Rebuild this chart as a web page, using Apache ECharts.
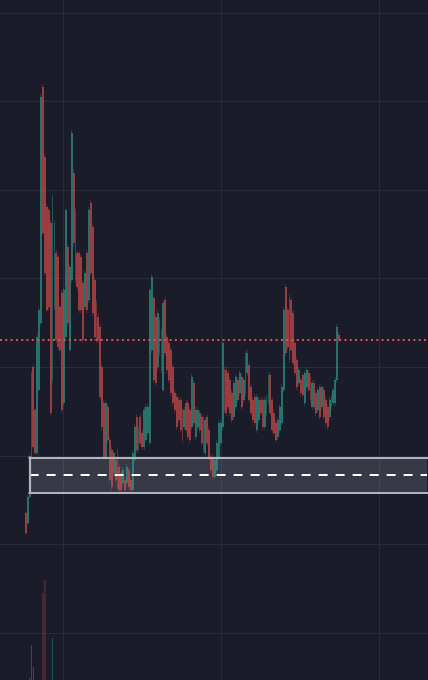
<!DOCTYPE html>
<html><head><meta charset="utf-8">
<script src="https://cdn.jsdelivr.net/npm/echarts@6/dist/echarts.min.js"></script>
<style>html,body{margin:0;padding:0;background:#1b1c2a;}#c{width:428px;height:680px;}</style>
</head><body><div id="c"></div><script>
// [open, close, low, high]
const candles = [
[12.0,10.0,9.8,12.2],[11.0,13.6,10.8,13.8],[13.6,17.6,13.4,17.9],[17.6,26.0,17.4,26.2],[26.6,18.6,18.4,26.9],
[22.3,18.0,17.8,22.5],[18.0,29.6,17.8,29.9],[24.3,32.3,24.0,32.6],[31.0,53.6,30.8,53.9],[54.6,40.0,39.8,54.9],
[47.6,36.0,35.7,47.9],[42.6,32.3,32.0,42.9],[42.3,32.6,32.3,42.5],[41.0,22.0,21.7,41.3],[25.3,43.6,25.0,43.9],
[32.6,41.0,32.3,41.2],[38.0,29.3,29.0,38.3],[37.6,28.6,28.3,37.9],[32.6,28.3,28.0,32.8],[34.0,22.3,22.0,34.3],
[23.0,34.3,22.7,34.6],[29.6,42.3,29.3,42.6],[38.6,31.0,30.7,38.9],[28.3,36.6,28.0,36.9],[35.3,50.0,35.0,50.3],
[46.0,39.0,38.7,46.3],[42.3,35.3,35.0,42.5],[38.0,34.6,34.3,38.3],[38.0,32.3,32.0,38.2],[37.6,32.3,32.0,37.9],
[35.0,29.3,29.0,35.3],[32.6,36.0,32.3,36.3],[38.0,32.3,32.0,38.3],[33.3,42.3,33.0,42.6],[43.0,36.0,35.7,43.3],
[40.6,32.0,31.7,40.9],[35.3,29.6,29.3,35.6],[33.0,29.3,29.0,33.3],[31.6,29.3,29.0,31.9],[30.6,23.6,23.3,30.9],
[26.6,20.6,20.3,26.9],[23.0,17.6,17.3,23.3],[17.6,23.0,17.3,23.3],[22.6,19.3,19.0,22.9],[19.3,15.3,15.0,19.6],
[18.3,14.6,14.3,18.6],[16.0,18.0,15.7,18.3],[17.3,15.3,15.0,17.6],[18.3,14.6,14.3,18.6],[16.6,14.3,14.0,16.9],
[16.0,14.3,14.0,16.3],[15.0,16.3,14.7,16.6],[15.3,14.3,14.0,15.6],[15.0,16.6,14.7,16.9],[16.3,14.6,14.3,16.6],
[15.3,14.3,14.0,15.6],[14.3,18.0,14.0,18.3],[17.3,20.6,17.0,20.9],[21.6,18.3,18.0,21.9],[18.3,20.3,18.0,20.6],
[21.6,19.0,18.7,21.9],[20.0,18.6,18.3,20.3],[18.6,22.3,18.3,22.6],[19.3,22.6,19.0,22.9],[20.0,22.6,19.7,22.9],
[19.0,34.3,18.7,34.6],[28.3,35.6,28.0,35.9],[33.5,25.3,25.0,33.8],[31.6,25.0,24.7,31.9],[26.6,32.0,26.3,32.3],
[28.0,31.3,27.7,31.6],[30.3,26.3,26.0,30.6],[24.3,33.0,24.0,33.3],[33.3,28.0,27.7,33.6],[29.6,26.3,26.0,29.9],
[29.0,25.3,25.0,29.3],[28.3,24.0,23.7,28.6],[26.6,23.0,22.7,26.9],[24.0,22.3,22.0,24.3],[23.6,20.6,20.3,23.9],
[23.3,21.3,21.0,23.6],[23.3,20.3,20.0,23.6],[22.3,19.3,19.0,22.6],[20.6,22.3,20.3,22.6],[23.0,20.3,20.0,23.3],
[23.0,19.6,19.3,23.3],[22.3,19.3,19.0,22.6],[20.6,25.6,20.3,25.9],[25.0,21.0,20.7,25.3],[19.6,22.3,19.3,22.6],
[20.6,22.3,20.3,22.6],[22.0,20.3,20.0,22.3],[21.6,19.0,18.7,21.9],[21.6,18.3,18.0,21.9],[18.0,21.3,17.7,21.6],
[21.6,19.0,18.7,21.9],[20.3,17.6,17.3,20.6],[17.6,16.3,16.0,17.9],[17.6,15.6,15.3,17.9],[15.6,17.3,15.3,17.6],
[16.3,19.0,16.0,19.3],[17.6,21.0,17.3,21.3],[19.0,21.0,18.7,21.3],[20.6,29.0,20.3,29.3],[26.3,22.3,22.0,26.6],
[26.3,22.0,21.7,26.6],[26.0,22.6,22.3,26.3],[25.3,22.0,21.7,25.6],[24.0,21.3,21.0,24.3],[21.6,25.0,21.3,25.3],
[22.6,25.6,22.3,25.9],[25.3,23.3,23.0,25.6],[24.0,26.0,23.7,26.3],[25.6,22.6,22.3,25.9],[23.3,25.3,23.0,25.6],
[24.0,28.0,23.7,28.3],[26.0,28.0,25.7,28.3],[26.8,23.3,23.0,27.1],[24.6,22.0,21.7,24.9],[23.3,21.3,21.0,23.6],
[23.6,21.0,20.7,23.9],[20.3,23.6,20.0,23.9],[21.3,23.3,21.0,23.6],[23.3,22.0,21.7,23.6],[23.3,20.6,20.3,23.6],
[20.6,23.3,20.3,23.6],[22.0,23.6,21.7,23.9],[23.0,25.8,22.7,26.1],[25.8,22.0,21.7,26.1],[23.3,20.3,20.0,23.6],
[22.0,20.0,19.7,22.3],[21.0,19.3,19.0,21.3],[19.6,21.3,19.3,21.6],[20.3,22.6,20.0,22.9],[21.0,24.6,20.7,24.9],
[24.3,32.3,24.0,32.6],[34.6,28.0,27.7,34.9],[32.3,28.6,28.3,32.6],[27.3,33.6,27.0,33.9],[33.3,28.3,28.0,33.6],
[32.0,27.0,26.7,32.3],[29.0,26.0,25.7,29.3],[27.3,24.6,24.3,27.6],[25.0,26.3,24.7,26.6],[25.3,24.0,23.7,25.6],
[25.8,23.8,23.5,26.1],[23.0,26.0,22.7,26.3],[24.6,26.3,24.3,26.6],[26.0,24.3,24.0,26.3],[25.6,23.3,23.0,25.9],
[22.6,25.0,22.3,25.3],[25.0,22.6,22.3,25.3],[24.0,22.0,21.7,24.3],[22.3,24.3,22.0,24.6],[24.6,21.6,21.3,24.9],
[22.6,24.6,22.3,24.9],[24.3,21.6,21.3,24.6],[23.3,21.0,20.7,23.6],[22.6,20.6,20.3,22.9],[21.6,23.3,21.3,23.6],
[22.6,23.6,22.3,23.9],[23.0,24.3,22.7,24.6],[23.0,25.3,22.7,25.6],[25.3,30.6,25.0,30.9],[29.8,29.3,29.0,30.1]
];
const volumes = [
20,30,42,75,53,35,38,36,39,127,140,30,28,32,82,25,30,28,22,34,
30,33,26,24,36,30,24,20,22,21,25,18,22,28,26,24,20,18,16,22,
26,28,24,22,26,24,18,16,20,18,16,14,12,14,13,12,18,20,16,15,
14,13,16,15,14,32,28,24,22,18,16,15,18,16,14,14,15,13,12,12,
11,12,12,10,11,12,11,14,12,11,10,10,11,12,11,10,11,12,13,11,
12,13,12,24,18,15,13,12,12,13,12,11,11,12,11,14,13,12,11,10,
10,11,10,10,11,10,12,12,11,10,10,9,10,11,12,22,20,16,17,15,
14,12,11,10,10,11,11,10,10,10,11,10,10,11,10,11,10,10,10,9,
10,10,11,12,20
];
const currentPrice = 29.3;
const zoneTop = 17.55, zoneBottom = 14.0, zoneMid = 15.8;
const zoneStart = 2, zoneEnd = 210;
// candle labels, followed by empty future slots on the right of the chart
const categories = candles.map((_, i) => 'C' + (i + 1));
const futureSlots = Array.from({length: 46}, (_, i) => 'F' + (i + 1));
const allCategories = categories.concat(futureSlots);

const upColor = '#2fa593', downColor = '#e6524f';
const volUp = 'rgba(43,161,147,0.45)', volDown = 'rgba(229,82,79,0.45)';
const gridColor = '#2a2b39';
const zoneBorder = '#b2b3bb';

const chart = echarts.init(document.getElementById('c'), null, {renderer: 'canvas'});
const hidden = {axisLine:{show:false}, axisTick:{show:false}, axisLabel:{show:false}};
const catAxis = Object.assign({type:'category', data: allCategories, min: -13, max: 210, boundaryGap: true, splitLine:{show:false}}, hidden);
const borderStyle = {color: zoneBorder, width: 2.2, type: 'solid', cap: 'square'};
chart.setOption({
  backgroundColor: '#1b1c2a',
  animation: false,
  grid: [
    {left: 63, right: 49, top: 0, bottom: 0},
    {left: 0, right: 0, top: 13, bottom: 47},
    {left: 0, right: 0, top: 480, bottom: 0}
  ],
  xAxis: [
    Object.assign({gridIndex: 0, type: 'value', min: 0, max: 2, interval: 1, splitLine: {show: true, lineStyle: {color: gridColor, width: 1}}}, hidden),
    Object.assign({gridIndex: 1}, catAxis),
    Object.assign({gridIndex: 2}, catAxis)
  ],
  yAxis: [
    Object.assign({gridIndex: 0, type: 'value', min: 0, max: 1, splitLine: {show: false}}, hidden),
    Object.assign({gridIndex: 1, type: 'value', min: 0, max: 62, interval: 62 / 7, splitLine: {show: true, lineStyle: {color: gridColor, width: 1}}}, hidden),
    Object.assign({gridIndex: 2, type: 'value', min: 40, max: 240, splitLine: {show: false}}, hidden)
  ],
  series: [
    {type: 'line', xAxisIndex: 0, yAxisIndex: 0, data: [], silent: true},
    {
      type: 'line', xAxisIndex: 1, yAxisIndex: 1, data: [], silent: true, z: 1,
      markArea: {
        silent: true,
        itemStyle: {color: 'rgba(140,142,154,0.25)', borderWidth: 0},
        data: [[{coord: [zoneStart, zoneTop]}, {coord: [zoneEnd + 2, zoneBottom]}]]
      }
    },
    {
      type: 'candlestick', xAxisIndex: 1, yAxisIndex: 1, data: candles, z: 3,
      barWidth: 1.4,
      itemStyle: {color: upColor, color0: downColor, borderColor: upColor, borderColor0: downColor, borderWidth: 0.25},
      emphasis: {disabled: true},
      markLine: {
        silent: true, symbol: ['none', 'none'], label: {show: false},
        data: [
          {yAxis: currentPrice, lineStyle: {color: '#e0504d', width: 1.8, type: [2, 3.3], opacity: 1}},
          [{coord: [zoneStart, zoneMid], lineStyle: {color: '#ffffff', width: 2, type: [9, 8]}}, {coord: [zoneEnd, zoneMid]}],
          [{coord: [zoneStart, zoneTop], lineStyle: borderStyle}, {coord: [zoneEnd, zoneTop]}],
          [{coord: [zoneStart, zoneBottom], lineStyle: borderStyle}, {coord: [zoneEnd, zoneBottom]}],
          [{coord: [zoneStart, zoneBottom], lineStyle: borderStyle}, {coord: [zoneStart, zoneTop]}]
        ]
      }
    },
    {
      type: 'bar', xAxisIndex: 2, yAxisIndex: 2, barWidth: 1,
      data: volumes.map((v, i) => ({value: v, itemStyle: {color: candles[i][1] >= candles[i][0] ? volUp : volDown}}))
    }
  ]
});
</script></body></html>
